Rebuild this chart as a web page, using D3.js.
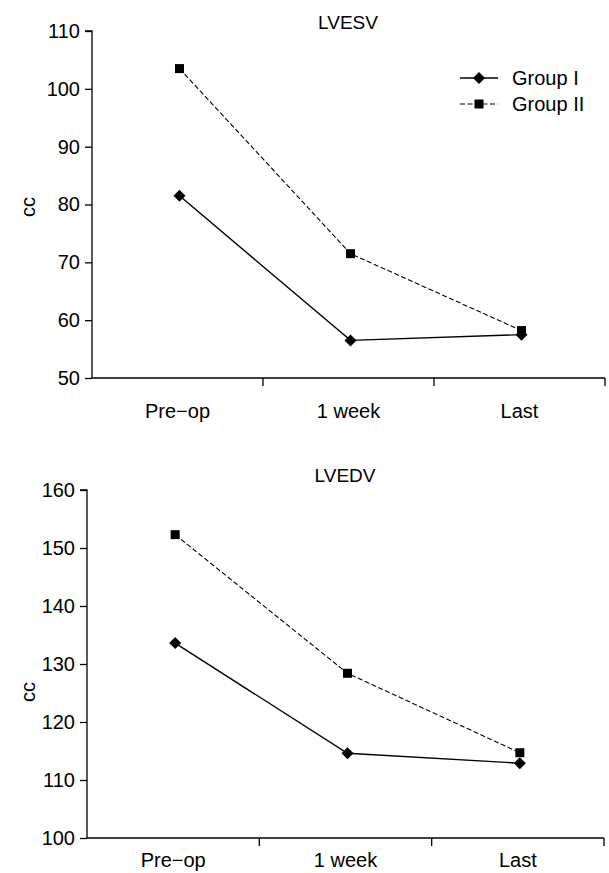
<!DOCTYPE html>
<html>
<head>
<meta charset="utf-8">
<script src="https://cdn.jsdelivr.net/npm/d3@7"></script>
<style>
  body { margin: 0; background: #fff; }
  svg { display: block; font-family: "Liberation Sans", Arial, sans-serif; }
</style>
</head>
<body>
<div id="chart"></div>
<script>
// Daten
var categories = ['Pre-op', '1 week', 'Last'];
var seriesNames = ['Group I', 'Group II'];
var lvesvGroup1 = [81.5, 56.5, 57.5];
var lvesvGroup2 = [103.5, 71.5, 58.2];
var lvedvGroup1 = [133.6, 114.6, 112.9];
var lvedvGroup2 = [152.3, 128.4, 114.7];
var lvesvTicks = [50, 60, 70, 80, 90, 100, 110];
var lvedvTicks = [100, 110, 120, 130, 140, 150, 160];

var W = 609, H = 873;
var svg = d3.select('#chart').append('svg')
  .attr('width', W).attr('height', H);

// flache Raute wie im Original (breiter als d3.symbolDiamond)
var diamond = 'M0,-6L6,0L0,6L-6,0Z';
var square = d3.symbol().type(d3.symbolSquare).size(81)();

function drawPanel(opt) {
  var g = svg.append('g');
  var x = d3.scaleBand().domain(categories).range([opt.left, opt.right]);
  var y = d3.scaleLinear().domain([opt.ticks[0], opt.ticks[opt.ticks.length - 1]])
    .range([opt.bottom, opt.top]);

  // y-Achse
  var yAxis = g.append('g')
    .attr('transform', 'translate(' + opt.left + ',0)')
    .call(d3.axisLeft(y).tickValues(opt.ticks).tickSize(7).tickPadding(5).tickFormat(d3.format('d')));
  yAxis.select('.domain').attr('d', 'M' + (-7) + ',' + opt.top + 'H0V' + opt.bottom);
  yAxis.selectAll('text').attr('font-size', '20px').attr('fill', '#000')
    .attr('font-family', '"Liberation Sans", Arial, sans-serif');
  yAxis.selectAll('line, path').attr('stroke', '#000').attr('stroke-width', 1.3);

  // x-Achse: Striche an den Bandgrenzen
  var xg = g.append('g');
  xg.append('line')
    .attr('x1', opt.left).attr('x2', opt.right)
    .attr('y1', opt.bottom).attr('y2', opt.bottom)
    .attr('stroke', '#000').attr('stroke-width', 1.3);
  categories.forEach(function(c) {
    var bx = x(c) + x.bandwidth();
    xg.append('line')
      .attr('x1', bx).attr('x2', bx)
      .attr('y1', opt.bottom).attr('y2', opt.bottom + 8)
      .attr('stroke', '#000').attr('stroke-width', 1.3);
    xg.append('text')
      .attr('x', x(c) + x.bandwidth() / 2)
      .attr('y', opt.bottom + opt.labelDy)
      .attr('text-anchor', 'middle')
      .attr('font-size', '20px')
      .text(c === 'Pre-op' ? 'Pre\u2212op' : c);
  });

  // Titel und Achsenbeschriftung
  g.append('text')
    .attr('x', opt.titleX).attr('y', opt.top - opt.titleDy)
    .attr('text-anchor', 'middle')
    .attr('font-size', '19px')
    .text(opt.title);
  g.append('text')
    .attr('transform', 'translate(' + 35 + ',' + opt.ccY + ') rotate(-90)')
    .attr('text-anchor', 'middle')
    .attr('font-size', '20px')
    .text('cc');

  var cx = function(d, i) { return x(categories[i]) + x.bandwidth() / 2 + 2; };
  var line = d3.line().x(cx).y(function(d) { return y(d); });

  // Group II (gestrichelt)
  g.append('path').datum(opt.g2)
    .attr('d', line).attr('fill', 'none')
    .attr('stroke', '#000').attr('stroke-width', 1.1)
    .attr('stroke-dasharray', '5,2.5');
  g.selectAll('.sq').data(opt.g2).enter().append('path')
    .attr('d', square)
    .attr('transform', function(d, i) { return 'translate(' + cx(d, i) + ',' + y(d) + ')'; })
    .attr('fill', '#000');

  // Group I (durchgezogen)
  g.append('path').datum(opt.g1)
    .attr('d', line).attr('fill', 'none')
    .attr('stroke', '#000').attr('stroke-width', 1.4);
  g.selectAll('.dm').data(opt.g1).enter().append('path')
    .attr('d', diamond)
    .attr('transform', function(d, i) { return 'translate(' + cx(d, i) + ',' + y(d) + ')'; })
    .attr('fill', '#000');

  return g;
}

drawPanel({
  title: 'LVESV', titleX: 348, titleDy: 2, ccY: 207,
  left: 92, right: 605, top: 31, bottom: 378, labelDy: 40,
  ticks: lvesvTicks, g1: lvesvGroup1, g2: lvesvGroup2
});

drawPanel({
  title: 'LVEDV', titleX: 345, titleDy: 8, ccY: 692,
  left: 87, right: 604, top: 490, bottom: 838, labelDy: 29,
  ticks: lvedvTicks, g1: lvedvGroup1, g2: lvedvGroup2
});

// Legende
var legend = svg.append('g');
seriesNames.forEach(function(name, i) {
  var ly = 78 + i * 26;
  legend.append('line')
    .attr('x1', 460).attr('x2', 498).attr('y1', ly).attr('y2', ly)
    .attr('stroke', '#000').attr('stroke-width', i === 0 ? 1.4 : 1.1)
    .attr('stroke-dasharray', i === 0 ? null : '5,2.5');
  legend.append('path')
    .attr('d', i === 0 ? diamond : square)
    .attr('transform', 'translate(479,' + ly + ')')
    .attr('fill', '#000');
  legend.append('text')
    .attr('x', 512).attr('y', ly + 7)
    .attr('font-size', '20px')
    .text(name);
});
</script>
</body>
</html>
